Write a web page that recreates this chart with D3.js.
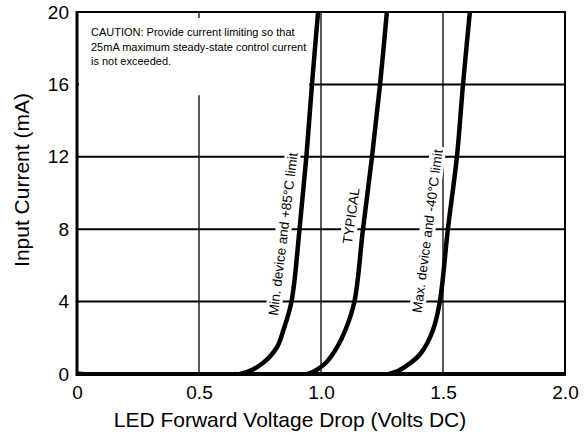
<!DOCTYPE html>
<html>
  <head>
    <meta charset="utf-8">
    <title>LED Forward Voltage Drop vs Input Current</title>
    <script src="https://cdn.jsdelivr.net/npm/d3@7/dist/d3.min.js"></script>
    <style>
      body { margin: 0; background: #fff; }
      svg { display: block; font-family: "Liberation Sans", Arial, sans-serif; }
    </style>
  </head>
  <body>
    <div id="main"></div>
  <script>
    // tick labels
    var xTicks = [0, 0.5, 1.0, 1.5, 2.0];
    var yTicks = [0, 4, 8, 12, 16, 20];
    var xGrid = [0.5, 1.0, 1.5];
    var yGrid = [4, 8, 12, 16];

    // curves: [volts, mA]
    var minCurve = [[0, 0], [0.668, 0], [0.762, 0.61], [0.82, 1.49], [0.846, 2.43], [0.879, 4], [0.912, 8], [0.94, 12], [0.963, 16], [0.988, 20]];
    var typCurve = [[0, 0], [0.945, 0], [0.99, 0.3], [1.02, 0.62], [1.066, 1.49], [1.1, 2.43], [1.137, 4], [1.172, 8], [1.209, 12], [1.242, 16], [1.27, 20]];
    var maxCurve = [[0, 0], [1.28, 0], [1.35, 0.45], [1.41, 1.16], [1.459, 2.43], [1.487, 4], [1.52, 8], [1.557, 12], [1.582, 16], [1.61, 20]];

    var curveLabels = [
      { text: 'Min. device and +85°C limit', v: 0.844, i: 7.73, angle: -83 },
      { text: 'TYPICAL', v: 1.123, i: 8.73, angle: -82 },
      { text: 'Max. device and -40°C limit', v: 1.436, i: 7.9, angle: -82.6 }
    ];

    var caution = [
      'CAUTION: Provide current limiting so that',
      '25mA maximum steady-state control current',
      'is not exceeded.'
    ];

    var svgWidth = 586;
    var svgHeight = 435;

    var x = d3.scaleLinear().domain([0, 2]).range([77, 565]);
    var y = d3.scaleLinear().domain([0, 20]).range([374, 12]);

    var svg = d3.select('#main')
      .append('svg')
      .attr('width', svgWidth)
      .attr('height', svgHeight);

    svg.append('defs').append('clipPath')
      .attr('id', 'plot')
      .append('rect')
      .attr('x', x(0)).attr('y', y(20))
      .attr('width', x(2) - x(0)).attr('height', y(0) - y(20));

    // grid
    svg.append('g').selectAll('line')
      .data(yGrid).enter().append('line')
      .attr('x1', x(0)).attr('x2', x(2))
      .attr('y1', function(d) { return y(d); })
      .attr('y2', function(d) { return y(d); })
      .attr('stroke', '#000').attr('stroke-width', 2);

    svg.append('g').selectAll('line')
      .data(xGrid).enter().append('line')
      .attr('y1', y(0)).attr('y2', y(20))
      .attr('x1', function(d) { return x(d); })
      .attr('x2', function(d) { return x(d); })
      .attr('stroke', '#000').attr('stroke-width', 1.3);

    // caution note, with white backing that hides the grid under it
    var note = svg.append('g');
    var noteBg = note.append('rect').attr('fill', '#fff');
    var noteText = note.append('text')
      .attr('font-size', 11)
      .attr('fill', '#000');
    noteText.selectAll('tspan')
      .data(caution).enter().append('tspan')
      .attr('x', 91)
      .attr('y', function(d, i) { return 36 + i * 14.5; })
      .text(function(d) { return d; });
    var nb = noteText.node().getBBox();
    noteBg.attr('x', x(0) + 2).attr('y', y(20) + 6)
      .attr('width', nb.x + nb.width + 1 - x(0))
      .attr('height', y(15.4) - y(20) - 6);

    // curves
    var line = d3.line()
      .x(function(d) { return x(d[0]); })
      .y(function(d) { return y(d[1]); })
      .curve(d3.curveCatmullRom.alpha(0.5));

    svg.append('g')
      .attr('clip-path', 'url(#plot)')
      .selectAll('path')
      .data([minCurve, typCurve, maxCurve])
      .enter().append('path')
      .attr('d', line)
      .attr('fill', 'none')
      .attr('stroke', '#000')
      .attr('stroke-width', 4.5);

    // curve labels
    var lab = svg.append('g').selectAll('g')
      .data(curveLabels).enter().append('g')
      .attr('transform', function(d) {
        return 'translate(' + x(d.v) + ',' + y(d.i) + ') rotate(' + d.angle + ')';
      });
    var labBg = lab.append('rect').attr('fill', '#fff');
    var labText = lab.append('text')
      .attr('font-size', 13.5)
      .attr('text-anchor', 'middle')
      .attr('dy', '0.35em')
      .text(function(d) { return d.text; });
    labText.each(function(d, i) {
      var w = this.getComputedTextLength();
      d3.select(labBg.nodes()[i])
        .attr('x', -w / 2 - 3).attr('y', -8)
        .attr('width', w + 6).attr('height', 16);
    });

    // frame
    var frame = svg.append('g').attr('stroke', '#000').attr('fill', 'none');
    frame.append('line').attr('x1', x(0)).attr('x2', x(2)).attr('y1', y(20)).attr('y2', y(20)).attr('stroke-width', 2);
    frame.append('line').attr('x1', x(2)).attr('x2', x(2)).attr('y1', y(20) - 1).attr('y2', y(0)).attr('stroke-width', 2);
    frame.append('line').attr('x1', x(0)).attr('x2', x(0)).attr('y1', y(20) - 1).attr('y2', y(0) + 2).attr('stroke-width', 3);
    frame.append('line').attr('x1', x(0) - 1).attr('x2', x(2) + 1).attr('y1', y(0)).attr('y2', y(0)).attr('stroke-width', 4);

    // axes
    var xAxis = d3.axisBottom(x)
      .tickValues(xTicks)
      .tickSize(0)
      .tickPadding(12)
      .tickFormat(function(d) { return d === 0 ? '0' : d3.format('.1f')(d); });
    var yAxis = d3.axisLeft(y)
      .tickValues(yTicks)
      .tickSize(0)
      .tickPadding(8);

    var gx = svg.append('g').attr('transform', 'translate(0,' + y(0) + ')').call(xAxis);
    var gy = svg.append('g').attr('transform', 'translate(' + x(0) + ',0)').call(yAxis);
    [gx, gy].forEach(function(g) {
      g.select('.domain').remove();
      g.selectAll('text')
        .attr('font-size', 19)
        .attr('font-family', '"Liberation Sans", Arial, sans-serif')
        .attr('fill', '#000');
    });

    svg.append('text')
      .attr('x', 290).attr('y', 427)
      .attr('text-anchor', 'middle')
      .attr('font-size', 21)
      .text('LED Forward Voltage Drop (Volts DC)');

    svg.append('text')
      .attr('transform', 'translate(29,180) rotate(-90)')
      .attr('text-anchor', 'middle')
      .attr('font-size', 21)
      .text('Input Current (mA)');
   </script>
  </body>
</html>
